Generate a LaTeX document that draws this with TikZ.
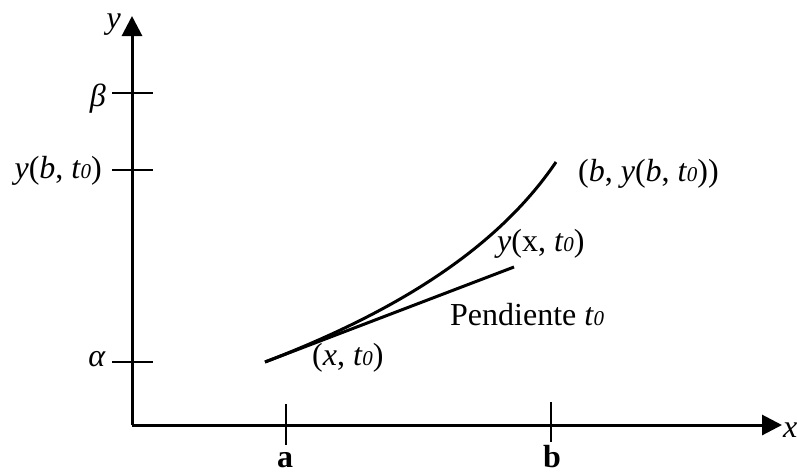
\documentclass[tikz,border=0pt]{standalone}
\usepackage{fontspec}
\setmainfont{Liberation Serif}
\usetikzlibrary{arrows.meta}
\newcommand{\tz}{\textit{t\kern0.3pt{\fontsize{21}{21}\selectfont 0}}}
\begin{document}
\begin{tikzpicture}[x=1pt,y=-1pt,
  axis/.style={line width=3pt,-{Triangle[length=20pt,width=20pt]}},
  tick/.style={line width=2.6pt},
  curve/.style={line width=3pt},
  lbl/.style={font=\fontsize{32}{34}\selectfont,inner sep=0pt}]
\useasboundingbox (0,0) rectangle (797,475);
\coordinate (O) at (132,425);
\coordinate (Ytop) at (132,16);
\coordinate (Xend) at (782,425);
\draw[axis] (O) -- (Ytop);
\draw[axis] (O) -- (Xend);
% y ticks
\coordinate (tb1) at (112,93); \coordinate (tb2) at (153,93);
\coordinate (ty1) at (112,170); \coordinate (ty2) at (153,170);
\coordinate (ta1) at (112,362); \coordinate (ta2) at (153,362);
\draw[tick] (tb1) -- (tb2);
\draw[tick] (ty1) -- (ty2);
\draw[tick] (ta1) -- (ta2);
% x ticks
\coordinate (xa1) at (286,404); \coordinate (xa2) at (286,445);
\coordinate (xb1) at (551,402); \coordinate (xb2) at (551,442);
\draw[tick] (xa1) -- (xa2);
\draw[tick] (xb1) -- (xb2);
% curve and tangent
\coordinate (S) at (265,362);
\coordinate (E) at (556,162);
\coordinate (L) at (514,267);
\draw[curve] (S) .. controls (390,314) and (495,252) .. (E);
\draw[curve] (S) -- (L);
% labels
\node[lbl,anchor=base east] (ly) at (121,28) {\textit{y}};
\node[lbl,anchor=base east] (lbeta) at (106,106) {\textit{β}};
\node[lbl,anchor=base east] (lyb) at (102,178) {\textit{y}(\textit{b}, \tz)};
\node[lbl,anchor=base east] (lalpha) at (106,366) {\textit{α}};
\node[lbl,anchor=base] (la) at (285,467) {\textbf{a}};
\node[lbl,anchor=base] (lb) at (552,467) {\textbf{b}};
\node[lbl,anchor=base west] (lx) at (783,437) {\textit{x}};
\node[lbl,anchor=base west] (lend) at (578,181) {(\textit{b}, \textit{y}(\textit{b}, \tz))};
\node[lbl,anchor=base west] (lyx) at (497,251) {\textit{y}(x, \tz)};
\node[lbl,anchor=base west] (lpend) at (450,325) {Pendiente \tz};
\node[lbl,anchor=base west] (lxt) at (312,365) {(\textit{x}, \tz)};
\end{tikzpicture}
\end{document}
